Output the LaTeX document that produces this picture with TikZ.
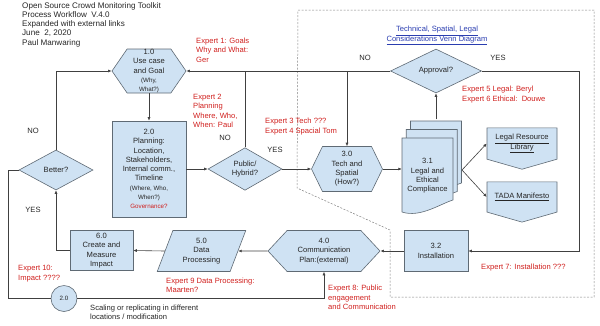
\documentclass[tikz,border=0pt]{standalone}
\usepackage{fontspec}
\setmainfont{Liberation Sans}
\usetikzlibrary{shapes.geometric,shapes.symbols,arrows.meta}

\definecolor{boxfill}{HTML}{CFE2F3}
\definecolor{boxline}{HTML}{5F6A74}
\definecolor{expertred}{HTML}{D0201E}
\definecolor{linkblue}{HTML}{2A3DB0}

\newcommand{\mainfont}{\fontsize{7.6}{9.3}\selectfont}
\newcommand{\tinyfont}{\fontsize{6.2}{8}\selectfont}
\newcommand{\titlefont}{\fontsize{8.1}{9.3}\selectfont}

\tikzset{
  base/.style={draw=boxline, fill=boxfill, line width=0.6pt, align=center,
    inner sep=0pt, text=black!85, font=\mainfont},
  procbox/.style={base, rectangle},
  hexbox/.style={base, signal, signal to=east and west},
  decision/.style={base, diamond},
  databox/.style={base, trapezium, trapezium left angle=68,
    trapezium right angle=112, trapezium stretches=true},
  offpage/.style={base, signal, signal to=south, signal pointer angle=148},
  docshape/.style={draw=boxline, fill=boxfill, line width=0.6pt},
  flow/.style={draw=black!75, line width=0.6pt, -{Latex[length=3.5pt,width=3pt]}},
  plainflow/.style={draw=black!75, line width=0.6pt},
  expert/.style={text=expertred, align=left, anchor=west, inner sep=0pt, font=\mainfont},
  answer/.style={inner sep=0pt, text=black!85, font=\mainfont},
  weblink/.style={inner sep=0pt, text=linkblue, align=center, font=\mainfont},
  boundary/.style={draw=black!50, line width=0.5pt, dash pattern=on 2pt off 1.5pt}
}

\begin{document}
\begin{tikzpicture}[x=1pt, y=-1pt]
  \useasboundingbox (0,0) rectangle (600,325);

  \node[anchor=north west, align=left, inner sep=0pt, text=black!85, font=\titlefont] at (22,2) (title)
    {Open Source Crowd Monitoring Toolkit\\Process Workflow\ \ V.4.0\\Expanded with external links\\June\ \ 2, 2020\\Paul Manwaring};

  % technical, spatial and legal area
  \draw[boundary] (298,10) -- (594,10) -- (594,297) -- (390,297) -- (390,230) -- (297,188) -- cycle;

  \node[hexbox, signal pointer angle=111, minimum width=74pt, minimum height=44pt] at (149,71) (goal)
    {1.0\\Use case\\and Goal\\{\tinyfont(Why,}\\{\tinyfont What?)}};
  \node[procbox, minimum width=74pt, minimum height=96pt] at (149,169) (plan)
    {2.0\\Planning:\\Location,\\Stakeholders,\\Internal comm.,\\Timeline\\{\tinyfont(Where, Who,}\\{\tinyfont When?)}\\{\tinyfont\color{expertred}Governance?}};
  \node[decision, minimum width=74pt, minimum height=40pt] at (245,169) (public) {Public/\\Hybrid?};
  \node[hexbox, signal pointer angle=128, minimum width=71pt, minimum height=45pt] at (347,169) (tech)
    {3.0\\Tech and\\Spatial\\(How?)};
  \node[decision, minimum width=91pt, minimum height=44pt] at (436,71) (approval) {Approval?};

  % stacked documents of 3.1
  \foreach \s in {2,1,0}{
    \draw[docshape] ({402+4.25*\s},{138-8.5*\s}) -- ++(51,0) -- ++(0,62)
      .. controls +(-13,4) and +(18,6) .. ++(-51,12) -- cycle;
  }
  \node[inner sep=0pt, minimum width=51pt, minimum height=79pt, align=center, text=black!85, font=\mainfont]
    at (427.5,176) (legal) {3.1\\Legal and\\Ethical\\Compliance};
  \coordinate (legalout) at (462,170);

  \node[offpage, minimum width=70pt, minimum height=39pt] at (522,143.5) (library)
    {\underline{Legal Resource}\\\underline{Library}};
  \node[offpage, minimum width=70pt, minimum height=38pt] at (522,197) (tada)
    {\underline{TADA Manifesto}};

  \node[procbox, minimum width=64pt, minimum height=41pt] at (436,251) (install) {3.2\\Installation};
  \node[hexbox, signal pointer angle=94, minimum width=112pt, minimum height=41pt] at (324,251) (comm)
    {4.0\\Communication\\Plan:(external)};
  \node[databox, minimum width=89pt, minimum height=41pt] at (201.5,251) (data) {5.0\\Data\\Processing};
  \node[procbox, minimum width=63pt, minimum height=40pt] at (101.5,250.5) (impact)
    {6.0\\Create and\\Measure\\Impact};
  \node[decision, minimum width=74pt, minimum height=40pt] at (56,170) (better) {Better?};
  \node[base, circle, minimum size=26pt, font=\tinyfont] at (64,298.5) (scale) {2.0};

  \coordinate (leftturn) at (8,170);
  \coordinate (rightturn) at (579,71);

  % connectors
  \draw[flow] (approval.west) -- (goal.east);
  \draw[flow] (tech.north |- approval.west) -- (tech.north);
  \draw[plainflow] (public.north) -- (public.north |- goal.east);
  \draw[flow] (goal.south) -- (plan.north);
  \draw[flow] (plan.east) -- (public.west);
  \draw[flow] (public.east) -- (tech.west);
  \draw[flow] (tech.east) -- (tech.east -| legal.west);
  \draw[flow] ([yshift=17pt]legal.north -| approval.south) -- (approval.south);
  \draw[flow] (legalout) -- (library.west);
  \draw[flow] (legalout) -- (tada.west);
  \draw[flow] (approval.east) -- (rightturn) |- (install.east);
  \draw[flow] (install.west) -- (comm.east);
  \draw[flow] (comm.west) -- (data.east);
  \draw[flow] (data.west) -- (impact.east);
  \draw[flow] (impact.west) -| (better.south);
  \draw[flow] (better.north) |- (goal.west);
  \draw[plainflow] (better.west) -- (leftturn) |- (scale.west);
  \draw[flow] (scale.east) -| (comm.south);

  % answers
  \node[answer] at (225,138) (publicno) {NO};
  \node[answer] at (275,150) (publicyes) {YES};
  \node[answer] at (365,58) (approvalno) {NO};
  \node[answer] at (498,58) (approvalyes) {YES};
  \node[answer] at (33,131) (betterno) {NO};
  \node[answer] at (33,210) (betteryes) {YES};

  \node[weblink] at (437,35.5) (venn)
    {\underline{Technical, Spatial, Legal}\\\underline{Considerations Venn Diagram}};

  % experts
  \node[expert] at (196,50) (expertone) {Expert 1: Goals\\Why and What:\\Ger};
  \node[expert] at (193,111) (experttwo) {Expert 2\\Planning\\Where, Who,\\When: Paul};
  \node[expert] at (265,126.5) (expertthree) {Expert 3 Tech ???\\Expert 4 Spacial Tom};
  \node[expert] at (462,94.5) (expertfive) {Expert 5 Legal: Beryl\\Expert 6 Ethical:\ \ Douwe};
  \node[expert] at (481,268) (expertseven) {Expert 7: Installation ???};
  \node[expert] at (328,297.5) (experteight) {Expert 8: Public\\engagement\\and Communication};
  \node[expert] at (166,285.5) (expertnine) {Expert 9 Data Processing:\\Maarten?};
  \node[expert] at (18,273.5) (expertten) {Expert 10:\\Impact ????};

  \node[anchor=west, align=left, inner sep=0pt, text=black!85, font=\mainfont] at (90,312) (scaling)
    {Scaling or replicating in different\\locations / modification};
\end{tikzpicture}
\end{document}
